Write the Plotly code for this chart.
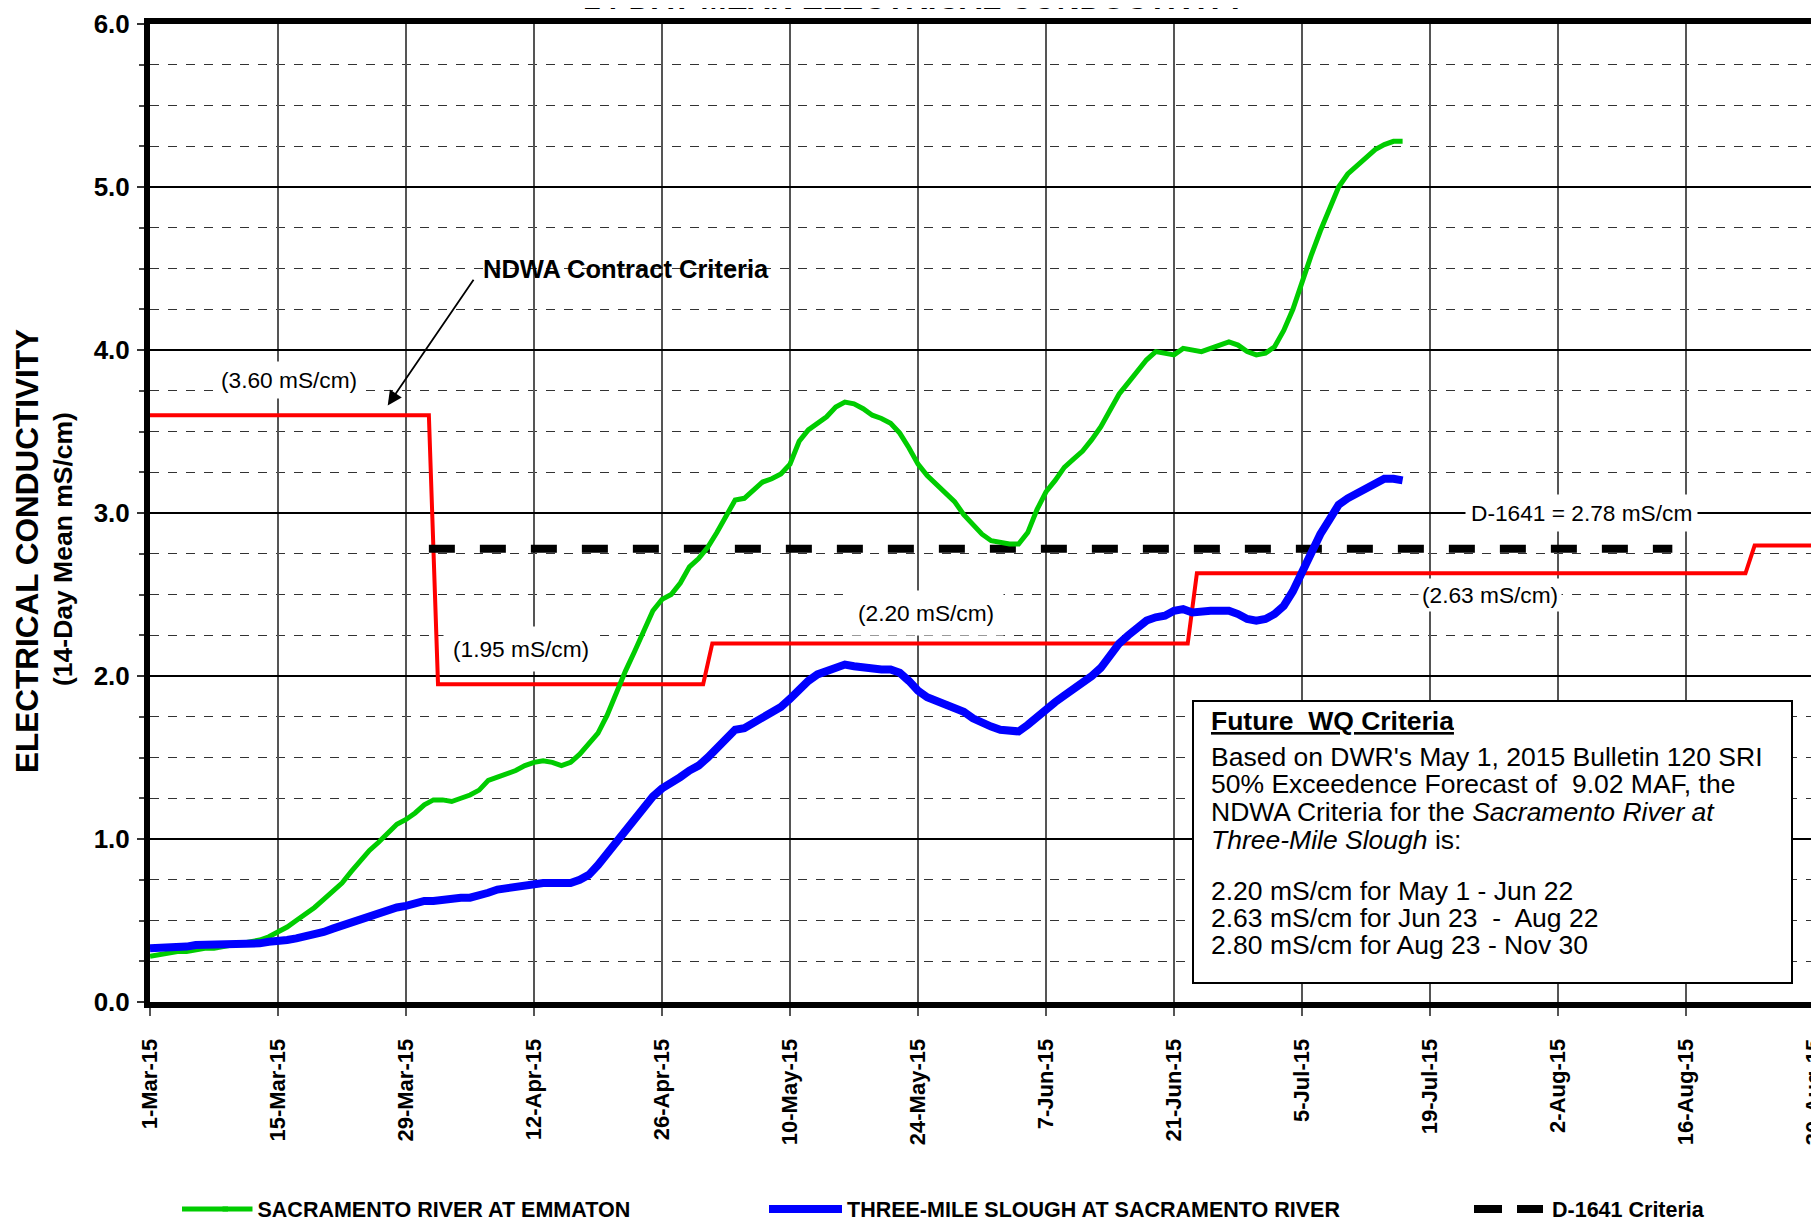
import plotly.graph_objects as go
import pandas as pd

# ---------------- data ----------------
start_date = "2015-03-01"
n_days = 138  # daily 14-day means, 1-Mar-15 .. 16-Jul-15

emmaton_ec = [
    0.28, 0.29, 0.30, 0.31, 0.31, 0.32, 0.33, 0.33, 0.34, 0.35,
    0.36, 0.37, 0.38, 0.40, 0.43, 0.46, 0.50, 0.54, 0.58, 0.63,
    0.68, 0.73, 0.80, 0.87, 0.93, 0.98, 1.04, 1.09, 1.12, 1.16,
    1.21, 1.24, 1.24, 1.23, 1.25, 1.27, 1.30, 1.36, 1.38, 1.40,
    1.42, 1.45, 1.47, 1.48, 1.47, 1.45, 1.47, 1.52, 1.58, 1.65,
    1.76, 1.90, 2.03, 2.15, 2.28, 2.40, 2.47, 2.50, 2.57, 2.67,
    2.72, 2.79, 2.88, 2.98, 3.08, 3.09, 3.14, 3.19, 3.21, 3.24,
    3.30, 3.44, 3.51, 3.55, 3.59, 3.65, 3.68, 3.67, 3.64, 3.60,
    3.58, 3.55, 3.49, 3.40, 3.30, 3.23, 3.18, 3.13, 3.07, 2.99,
    2.93, 2.87, 2.83, 2.82, 2.81, 2.81, 2.88, 3.02, 3.13, 3.20,
    3.28, 3.33, 3.38, 3.45, 3.53, 3.63, 3.73, 3.80, 3.87, 3.94,
    3.99, 3.98, 3.97, 4.01, 4.00, 3.99, 4.01, 4.03, 4.05, 4.03,
    3.99, 3.97, 3.98, 4.02, 4.12, 4.25, 4.42, 4.58, 4.73, 4.87,
    5.00, 5.08, 5.13, 5.18, 5.23, 5.26, 5.28, 5.28,
]

threemile_ec = [
    0.33, 0.33, 0.34, 0.34, 0.34, 0.35, 0.35, 0.35, 0.35, 0.35,
    0.36, 0.36, 0.36, 0.37, 0.37, 0.38, 0.39, 0.40, 0.42, 0.43,
    0.45, 0.47, 0.49, 0.51, 0.53, 0.55, 0.56, 0.58, 0.59, 0.61,
    0.62, 0.62, 0.63, 0.63, 0.64, 0.64, 0.65, 0.67, 0.69, 0.70,
    0.71, 0.72, 0.73, 0.73, 0.73, 0.73, 0.73, 0.75, 0.78, 0.84,
    0.91, 0.98, 1.05, 1.12, 1.19, 1.26, 1.31, 1.34, 1.38, 1.42,
    1.45, 1.50, 1.56, 1.62, 1.67, 1.68, 1.71, 1.74, 1.77, 1.81,
    1.86, 1.92, 1.97, 2.01, 2.03, 2.06, 2.07, 2.06, 2.05, 2.04,
    2.04, 2.04, 2.02, 1.97, 1.91, 1.87, 1.85, 1.83, 1.81, 1.78,
    1.74, 1.71, 1.69, 1.67, 1.66, 1.66, 1.70, 1.75, 1.80, 1.84,
    1.88, 1.92, 1.95, 2.00, 2.05, 2.13, 2.20, 2.25, 2.30, 2.34,
    2.36, 2.37, 2.40, 2.41, 2.39, 2.40, 2.40, 2.40, 2.40, 2.38,
    2.35, 2.34, 2.35, 2.38, 2.43, 2.52, 2.64, 2.76, 2.87, 2.96,
    3.05, 3.09, 3.12, 3.16, 3.18, 3.21, 3.21, 3.20,
]

# NDWA contract criteria (step line, daily)
ndwa_dates = ["2015-03-01", "2015-03-31 12:00", "2015-04-01 12:00", "2015-04-30 12:00",
              "2015-05-01 12:00", "2015-06-22 12:00", "2015-06-23 12:00",
              "2015-08-22 12:00", "2015-08-23 12:00", "2015-09-06"]
ndwa_values = [3.60, 3.60, 1.95, 1.95, 2.20, 2.20, 2.63, 2.63, 2.80, 2.80]

# D-1641 criteria
d1641_dates = ["2015-03-31 12:00", "2015-08-14 12:00"]
d1641_values = [2.78, 2.78]

series_names = ["SACRAMENTO RIVER AT EMMATON",
                "THREE-MILE SLOUGH AT SACRAMENTO RIVER",
                "D-1641 Criteria"]

x_start = "2015-03-01"
x_end = "2015-08-31 10:00"
y_ticks = [0, 1, 2, 3, 4, 5, 6]

# ---------------- layout helpers ----------------
W, H = 1819, 1223
OFF = 8  # page body margin: figure is drawn 8px right/down in the window
ML, MR, MT, MB = 142, 0, 16, 229
PW, PH = W - ML - MR, H - MT - MB


def px(xs):
    """window x pixel -> paper x"""
    return (xs - OFF - ML) / PW


def py(ys):
    """window y pixel -> paper y"""
    return 1 - (ys - OFF - MT) / PH


FONT = "Liberation Sans, Arial, sans-serif"
dates = pd.date_range(start_date, periods=n_days, freq="D")

GREEN, BLUE, RED = "#00CC00", "#0000FF", "#FF0000"

fig = go.Figure()
fig.add_trace(go.Scatter(x=ndwa_dates, y=ndwa_values, mode="lines",
                         line=dict(color=RED, width=4), showlegend=False,
                         name="NDWA Contract Criteria"))
fig.add_trace(go.Scatter(x=d1641_dates, y=d1641_values, mode="lines",
                         line=dict(color="black", width=8, dash="26px,25px"),
                         name=series_names[2], legend="legend3"))
fig.add_trace(go.Scatter(x=dates, y=emmaton_ec, mode="lines",
                         line=dict(color=GREEN, width=5),
                         name=series_names[0], legend="legend"))
fig.add_trace(go.Scatter(x=dates, y=threemile_ec, mode="lines",
                         line=dict(color=BLUE, width=8),
                         name=series_names[1], legend="legend2"))

leg_font = dict(family=FONT, size=21.5, color="black", weight="bold")
leg_common = dict(orientation="h", yanchor="middle", y=py(1209), xanchor="left",
                  font=leg_font, bgcolor="rgba(0,0,0,0)", borderwidth=0)

fig.update_layout(
    width=W, height=H,
    margin=dict(l=ML, r=MR, t=MT, b=MB, pad=0),
    paper_bgcolor="white", plot_bgcolor="white",
    font=dict(family=FONT, color="black"),
    legend=dict(x=px(217.5), **leg_common),
    legend2=dict(x=px(807), **leg_common),
    legend3=dict(x=px(1512), **leg_common),
    xaxis=dict(
        type="date", range=[x_start, x_end],
        tick0="2015-03-01", dtick=14 * 86400000, tickformat="%-d-%b-%y",
        tickangle=-90, tickfont=dict(family=FONT, size=22, weight="bold"),
        ticks="outside", ticklen=8, tickcolor="#555", tickwidth=1.5,
        ticklabelstandoff=14, ticklabeloverflow="allow",
        showgrid=True, gridcolor="#555", gridwidth=1.5,
        showline=True, linecolor="black", linewidth=6, mirror=True,
        zeroline=False,
    ),
    yaxis=dict(
        range=[0, 6], tickvals=y_ticks, tickformat=".1f",
        tickfont=dict(family=FONT, size=26, weight="bold"),
        ticks="outside", ticklen=7, tickcolor="#333", tickwidth=1.5,
        ticklabelstandoff=2, ticklabeloverflow="allow",
        showgrid=True, gridcolor="black", gridwidth=2,
        minor=dict(dtick=0.25, showgrid=True, gridcolor="#333", gridwidth=1,
                   griddash="dash", ticks="outside", ticklen=5, tickcolor="#444"),
        showline=True, linecolor="black", linewidth=6, mirror=False,
        zeroline=False,
    ),
)

shapes = []
# Future WQ criteria box
shapes.append(dict(type="rect", xref="paper", yref="paper",
                   x0=px(1193), x1=px(1792), y0=py(983), y1=py(701),
                   line=dict(color="black", width=2), fillcolor="white", layer="above"))
# longer legend samples (extend the native legend symbols to the left)
yl = py(1209)
shapes.append(dict(type="line", xref="paper", yref="paper", x0=px(182), x1=px(228),
                   y0=yl, y1=yl, line=dict(color=GREEN, width=5)))
shapes.append(dict(type="line", xref="paper", yref="paper", x0=px(769), x1=px(818),
                   y0=yl, y1=yl, line=dict(color=BLUE, width=8)))
shapes.append(dict(type="line", xref="paper", yref="paper", x0=px(1474), x1=px(1502),
                   y0=yl, y1=yl, line=dict(color="black", width=8)))

ann = []
# title (only its lower part falls inside the image)
ann.append(dict(text="<b>14-DAY MEAN ELECTRICAL CONDUCTIVITY</b>", x=px(914), y=py(18),
                xref="paper", yref="paper", xanchor="center", yanchor="bottom",
                showarrow=False, font=dict(size=31.5)))
# y axis titles
ann.append(dict(text="<b>ELECTRICAL CONDUCTIVITY</b>", x=px(27), y=py(551),
                xref="paper", yref="paper", xanchor="center", yanchor="middle",
                textangle=-90, showarrow=False, font=dict(size=31.5)))
ann.append(dict(text="<b>(14-Day Mean mS/cm)</b>", x=px(63), y=py(549),
                xref="paper", yref="paper", xanchor="center", yanchor="middle",
                textangle=-90, showarrow=False, font=dict(size=26.5)))

# value labels with white background
for txt, xs, ys, pad in [("(3.60 mS/cm)", 289, 380.5, 5),
                         ("(1.95 mS/cm)", 521, 648.5, 9),
                         ("(2.20 mS/cm)", 926, 612.5, 9),
                         ("(2.63 mS/cm)", 1490, 595, 3),
                         ("D-1641 = 2.78 mS/cm", 1581, 512.7, 5)]:
    ann.append(dict(text=txt, x=px(xs), y=py(ys), xref="paper", yref="paper",
                    xanchor="center", yanchor="middle", showarrow=False,
                    bgcolor="white", borderpad=pad,
                    font=dict(size=22.7)))

# NDWA contract criteria label and arrow
ann.append(dict(text="<b>NDWA Contract Criteria</b>", x=px(481), y=py(269),
                xref="paper", yref="paper", xanchor="left", yanchor="middle",
                showarrow=False, font=dict(size=25.5)))
ann.append(dict(text="", x="2015-03-27", y=3.66, xref="x", yref="y",
                ax="2015-04-05 12:00", ay=4.44, axref="x", ayref="y",
                showarrow=True, arrowhead=2, arrowsize=1.6, arrowwidth=1.8,
                arrowcolor="black", standoff=0, startstandoff=0))

# box text (tight line spacing as in the original; fixed-height rows)
box_lines = [
    ("<b><u>Future\u00a0 WQ Criteria</u></b>", 721.5),
    ("Based on DWR's May 1, 2015 Bulletin 120 SRI", 757.6),
    ("50% Exceedence Forecast of\u00a0 9.02 MAF, the", 784.2),
    ("NDWA Criteria for the <i>Sacramento River at</i>", 811.8),
    ("<i>Three-Mile Slough</i> is:", 839.8),
    ("2.20 mS/cm for May 1 - Jun 22", 891.6),
    ("2.63 mS/cm for Jun 23\u00a0 -\u00a0 Aug 22", 918.2),
    ("2.80 mS/cm for Aug 23 - Nov 30", 944.8),
]
for txt, ys in box_lines:
    ann.append(dict(text=txt, x=px(1210), y=py(ys + 1.8), xref="paper", yref="paper",
                    xanchor="left", yanchor="middle", showarrow=False,
                    height=26, valign="bottom", align="left",
                    font=dict(size=26.5), borderpad=0))

fig.update_layout(annotations=ann, shapes=shapes)
fig.write_html("out.html")
